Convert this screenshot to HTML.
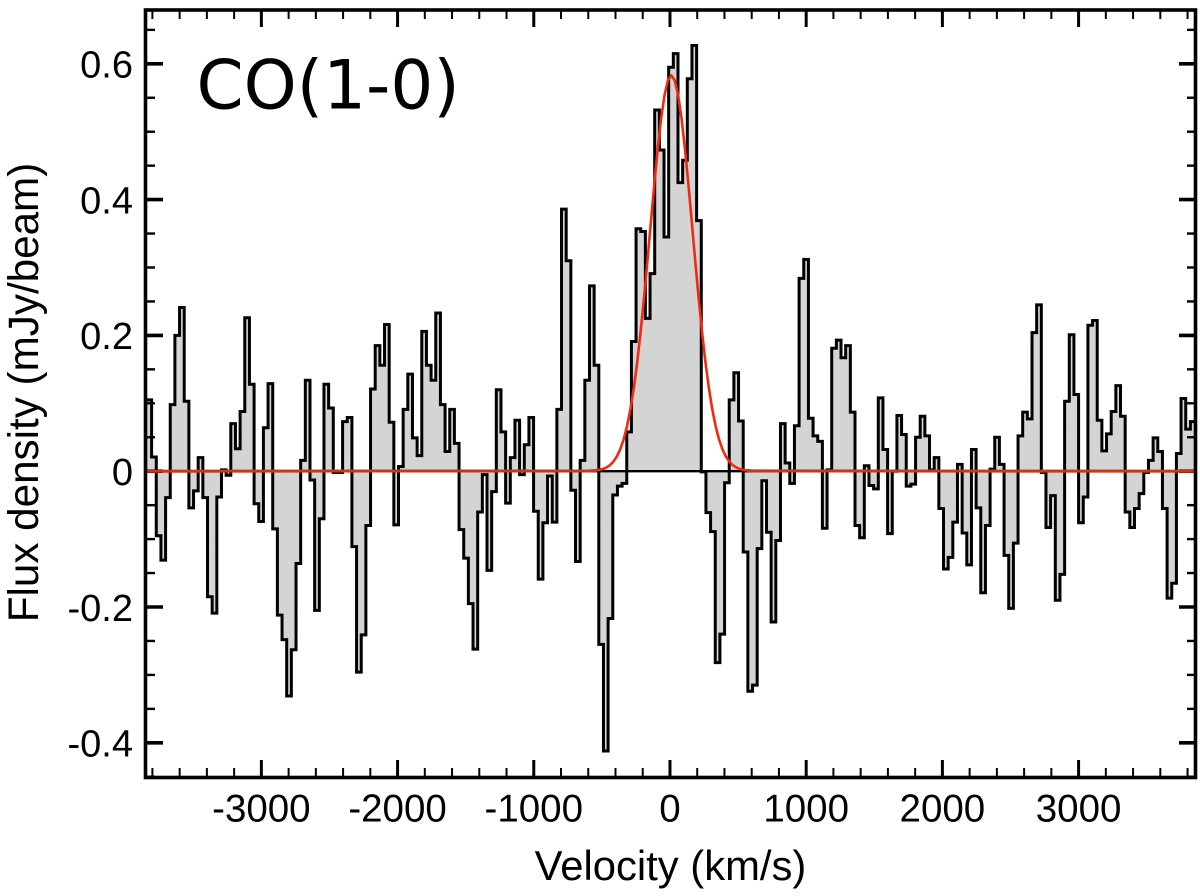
<!DOCTYPE html>
<html lang="en">
<head>
<meta charset="utf-8">
<title>CO(1-0) spectrum</title>
<style>
html,body{margin:0;padding:0;background:#fff;width:1200px;height:896px;overflow:hidden}
svg{display:block}
text{font-family:"Liberation Sans",Helvetica,Arial,sans-serif;fill:#000}
</style>
</head>
<body>
<svg id="chart" xmlns="http://www.w3.org/2000/svg" width="1200" height="896" viewBox="0 0 1200 896">
  <defs><clipPath id="plot-clip"><rect x="146" y="10" width="1050" height="767"/></clipPath></defs>
  <g id="plot-layer" clip-path="url(#plot-clip)">
    <path id="flux-fill" fill="#d4d4d4" stroke="none"/>
    <line id="zero-line" stroke="#000" stroke-width="2.4"/>
    <path id="flux-step" fill="none" stroke="#000" stroke-width="3" stroke-linejoin="miter"/>
    <path id="fit-line" fill="none" stroke="#f02a10" stroke-width="2.6" stroke-linejoin="round"/>
  </g>
  <g id="tick-layer"></g>
  <path id="fit-tails" fill="none" stroke="#c4381f" stroke-width="3"/>
  <rect x="145.5" y="10" width="1050" height="767.5" fill="none" stroke="#000" stroke-width="3.6"/>
  <g id="label-layer"></g>
  <text x="196.5" y="108.5" font-size="67.5" style="font-family:'DejaVu Sans',sans-serif">CO(1-0)</text>
  <text x="670.5" y="880" font-size="41.8" text-anchor="middle">Velocity (km/s)</text>
  <text transform="translate(38,392.5) rotate(-90)" font-size="42.2" text-anchor="middle">Flux density (mJy/beam)</text>
</svg>
<script>
const channelFlux = [
 .105,.021,-.095,-.131,-.039,.098,.200,.241,.103,-.054,-.029,.020,-.039,-.185,-.209,-.038,.002,-.006,.070,.033,
 .088,.226,.128,-.048,-.074,.064,.129,-.085,-.212,-.248,-.331,-.263,-.136,.016,.134,-.013,-.205,-.070,.128,.093,
 -.002,-.002,.073,.079,-.111,-.296,-.241,-.080,.121,.185,.156,.216,.072,-.079,.007,.091,.143,.049,.023,.206,
 .156,.134,.233,.098,.029,.091,.041,-.086,-.128,-.195,-.262,-.060,-.005,-.146,-.030,.120,.058,-.047,.020,.075,
 -.005,.039,.079,-.059,-.159,-.076,-.007,-.075,.091,.386,.310,-.028,-.133,.016,.134,.273,.156,-.255,-.412,-.217,
 -.035,-.022,-.018,.058,.191,.357,.353,.225,.291,.532,.473,.345,.595,.615,.425,.458,.578,.627,.369,-.001,
 -.061,-.089,-.282,-.240,-.017,.105,.145,.074,-.119,-.324,-.315,-.114,-.014,-.090,-.222,-.102,.070,.012,-.018,.067,
 .284,.312,.078,.052,.044,-.084,.002,.181,.193,.167,.185,.087,-.080,-.098,.008,-.021,-.026,.108,.032,-.092,
 .000,.082,.054,-.022,-.019,.050,.081,.052,.002,.020,-.055,-.144,-.127,-.075,.010,-.091,-.138,.032,-.054,-.179,
 -.080,.003,.050,.010,-.124,-.202,-.106,.052,.087,.077,.204,.245,-.002,-.083,-.036,-.190,-.152,.103,.201,.113,
 -.076,-.038,.215,.222,.075,.030,.055,.088,.126,.081,-.060,-.083,-.055,-.033,-.002,.016,.049,.029,-.055,-.187,
 -.165,.026,.107,.062,.073
];
const channelStartVelocity = -3840;
const channelWidthVelocity = 34.2;
const fitVelocity = [-3840,-590,-540,-490,-465,-440,-415,-390,-365,-340,-315,-290,-265,-240,-215,-190,-165,-140,-115,-90,-65,-40,-15,10,35,60,85,110,135,160,185,210,235,260,285,310,335,360,385,410,435,460,485,510,560,610,3860];
const fitFlux = [0,.0004,.0012,.0034,.0057,.0091,.0143,.0218,.0324,.0470,.0665,.0918,.1233,.1614,.2060,.2563,.3107,.3672,.4229,.4747,.5194,.5538,.5756,.583,.5756,.5538,.5194,.4747,.4229,.3672,.3107,.2563,.2060,.1614,.1233,.0918,.0665,.0470,.0324,.0218,.0143,.0091,.0057,.0034,.0012,.0004,0];
const xMajorTicks = [-3000,-2000,-1000,0,1000,2000,3000];
const xTickLabels = ["-3000","-2000","-1000","0","1000","2000","3000"];
const xMinorTicks = [-3800,-3600,-3400,-3200,-2800,-2600,-2400,-2200,-1800,-1600,-1400,-1200,-800,-600,-400,-200,200,400,600,800,1200,1400,1600,1800,2200,2400,2600,2800,3200,3400,3600,3800];
const yMajorTicks = [-0.4,-0.2,0,0.2,0.4,0.6];
const yTickLabels = ["-0.4","-0.2","0","0.2","0.4","0.6"];
const yMinorTicks = [-0.45,-0.35,-0.3,-0.25,-0.15,-0.1,-0.05,0.05,0.1,0.15,0.25,0.3,0.35,0.45,0.5,0.55,0.65];

const NS = "http://www.w3.org/2000/svg";
function xScale(v){ return 146 + (v + 3847) * (1050 / 7709); }
function yScale(f){ return 471.2 - f * 679; }
function edgeVelocity(k){ return channelStartVelocity + channelWidthVelocity * k; }
function fitSegment(from, to){
  let d = "";
  for (let i = from; i <= to; i++) {
    d += (i === from ? "M" : "L") + xScale(fitVelocity[i]).toFixed(2) + " " + yScale(fitFlux[i]).toFixed(2);
  }
  return d;
}

let stepD = "";
channelFlux.forEach(function(f, k){
  const y = yScale(f).toFixed(2);
  stepD += (k === 0 ? "M" : "L") + xScale(edgeVelocity(k)).toFixed(2) + " " + y + "L" + xScale(edgeVelocity(k + 1)).toFixed(2) + " " + y;
});
document.getElementById("flux-step").setAttribute("d", stepD);
const zeroY = yScale(0).toFixed(2);
const fillD = "M" + xScale(edgeVelocity(0)).toFixed(2) + " " + zeroY + stepD.replace(/^M/, "L") + "L" + xScale(edgeVelocity(channelFlux.length)).toFixed(2) + " " + zeroY + "Z";
document.getElementById("flux-fill").setAttribute("d", fillD);

const zero = document.getElementById("zero-line");
zero.setAttribute("x1", 146);
zero.setAttribute("x2", 1196);
zero.setAttribute("y1", zeroY);
zero.setAttribute("y2", zeroY);

document.getElementById("fit-line").setAttribute("d", fitSegment(0, fitVelocity.length - 1));
document.getElementById("fit-tails").setAttribute("d", fitSegment(0, 2) + fitSegment(fitVelocity.length - 3, fitVelocity.length - 1));

const tickLayer = document.getElementById("tick-layer");
const labelLayer = document.getElementById("label-layer");
function addTick(x1, y1, x2, y2, width, name){
  const t = document.createElementNS(NS, "line");
  t.setAttribute("x1", x1.toFixed(2));
  t.setAttribute("y1", y1.toFixed(2));
  t.setAttribute("x2", x2.toFixed(2));
  t.setAttribute("y2", y2.toFixed(2));
  t.setAttribute("stroke", "#000");
  t.setAttribute("stroke-width", width);
  
  
  tickLayer.appendChild(t);
}
xMajorTicks.forEach(function(v){
  const x = xScale(v);
  addTick(x, 777, x, 760, 3, "x-major-tick");
  addTick(x, 10, x, 27, 3, "x-major-tick-top");
});
xMinorTicks.forEach(function(v){
  const x = xScale(v);
  addTick(x, 777, x, 768, 2, "x-minor-tick");
  addTick(x, 10, x, 19, 2, "x-minor-tick-top");
});
yMajorTicks.forEach(function(f){
  const y = yScale(f);
  addTick(146, y, 163, y, 3.6, "y-major-tick");
  addTick(1196, y, 1179, y, 3.6, "y-major-tick-right");
});
yMinorTicks.forEach(function(f){
  const y = yScale(f);
  addTick(146, y, 155, y, 2.4, "y-minor-tick");
  addTick(1196, y, 1187, y, 2.4, "y-minor-tick-right");
});
xTickLabels.forEach(function(s, i){
  const t = document.createElementNS(NS, "text");
  t.textContent = s;
  t.setAttribute("x", xScale(xMajorTicks[i]).toFixed(2));
  t.setAttribute("y", 821.5);
  t.setAttribute("font-size", 38.5);
  t.setAttribute("text-anchor", "middle");
  
  
  labelLayer.appendChild(t);
});
yTickLabels.forEach(function(s, i){
  const t = document.createElementNS(NS, "text");
  t.textContent = s;
  t.setAttribute("x", 133);
  t.setAttribute("y", (yScale(yMajorTicks[i]) + 13.8).toFixed(2));
  t.setAttribute("font-size", 38);
  t.setAttribute("text-anchor", "end");
  
  
  labelLayer.appendChild(t);
});
</script>
</body>
</html>
